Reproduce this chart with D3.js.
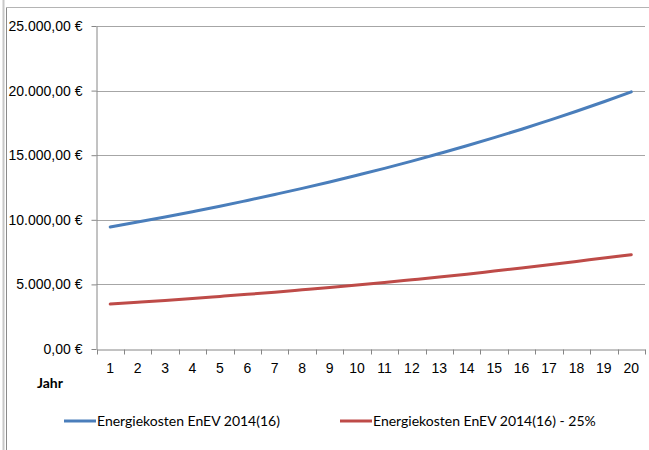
<!DOCTYPE html>
<html>
<head>
<meta charset="utf-8">
<script src="https://cdn.jsdelivr.net/npm/d3@7"></script>
<style>
  body { margin: 0; background: #fff; }
  svg { display: block; font-family: Lato, "Open Sans", sans-serif; }
</style>
</head>
<body>
<div id="chart"></div>
<script>
'use strict';

// Jahr 1..20
const years = ['1', '2', '3', '4', '5', '6', '7', '8', '9', '10',
    '11', '12', '13', '14', '15', '16', '17', '18', '19', '20'];

// Energiekosten EnEV 2014(16)
const kostenEnev = [9450, 9830, 10220, 10630, 11050, 11500, 11960, 12430, 12930, 13450,
    13980, 14540, 15130, 15730, 16360, 17010, 17700, 18400, 19140, 19900];

// Energiekosten EnEV 2014(16) - 25%
const kostenReduziert = [3480, 3620, 3760, 3910, 4070, 4230, 4400, 4580, 4760, 4950,
    5150, 5360, 5570, 5790, 6030, 6270, 6520, 6780, 7050, 7300];

const yTicks = [0, 5000, 10000, 15000, 20000, 25000];

const seriesNames = ['Energiekosten EnEV 2014(16)', 'Energiekosten EnEV 2014(16) - 25%'];
const seriesColors = ['#4a7ebb', '#be4b48'];

const width = 649, height = 450;
const margin = { top: 26, right: 4, bottom: 101, left: 96.5 };

const svg = d3.select('#chart').append('svg')
    .attr('width', width).attr('height', height);

// outer frame like the spreadsheet chart border
svg.append('line').attr('x1', 3.5).attr('x2', 3.5).attr('y1', 0).attr('y2', height)
    .attr('stroke', '#c8c8c8').attr('stroke-width', 2);
svg.append('line').attr('x1', 6.5).attr('x2', 6.5).attr('y1', 7).attr('y2', height)
    .attr('stroke', '#8a8a8a');
svg.append('line').attr('x1', 6).attr('x2', width).attr('y1', 7.5).attr('y2', 7.5)
    .attr('stroke', '#b4b4b4');

const plotW = width - margin.left - margin.right;
const plotH = height - margin.top - margin.bottom;

const x = d3.scaleBand().domain(years).range([margin.left, margin.left + plotW]);
const y = d3.scaleLinear().domain([0, 25000]).range([margin.top + plotH, margin.top]);

const fmt = v => d3.format(',.2f')(v).replace(/,/g, '#').replace('.', ',').replace(/#/g, '.') + ' €';

// gridlines
svg.append('g').selectAll('line')
    .data(yTicks.filter(d => d > 0))
    .enter().append('line')
    .attr('x1', margin.left).attr('x2', margin.left + plotW)
    .attr('y1', d => Math.round(y(d)) + 0.5).attr('y2', d => Math.round(y(d)) + 0.5)
    .attr('stroke', '#a6a6a6');

// y axis
const yAxis = svg.append('g')
    .attr('transform', `translate(${margin.left},0)`)
    .call(d3.axisLeft(y).tickValues(yTicks).tickFormat(fmt).tickSize(5).tickSizeOuter(0));
yAxis.select('.domain').attr('stroke', '#868686');
yAxis.selectAll('.tick line').attr('stroke', '#868686');
yAxis.selectAll('.tick text').attr('x', -14).style('font-size', '14px').attr('fill', '#000');

// x axis
const xAxis = svg.append('g')
    .attr('transform', `translate(0,${Math.round(y(0)) + 0.5})`)
    .call(d3.axisBottom(x).tickSize(0));
xAxis.select('.domain').attr('stroke', '#868686');
xAxis.selectAll('.tick text').attr('y', 14).style('font-size', '14px').attr('fill', '#000');

// tick marks at category boundaries
const bounds = years.map(d => x(d)).concat([margin.left + plotW]);
xAxis.append('g').selectAll('line')
    .data(bounds)
    .enter().append('line')
    .attr('x1', d => Math.round(d) + 0.5).attr('x2', d => Math.round(d) + 0.5)
    .attr('y1', 0).attr('y2', 5)
    .attr('stroke', '#868686');

svg.append('text')
    .attr('x', 37).attr('y', 388)
    .style('font-size', '14px').style('font-weight', 'bold')
    .text('Jahr');

// lines
const line = d3.line()
    .x((d, i) => x(years[i]) + x.bandwidth() / 2)
    .y(d => y(d))
    .curve(d3.curveMonotoneX);

[kostenEnev, kostenReduziert].forEach((s, k) => {
    svg.append('path')
        .datum(s)
        .attr('fill', 'none')
        .attr('stroke', seriesColors[k])
        .attr('stroke-width', 3)
        .attr('stroke-linecap', 'round')
        .attr('d', line);
});

// legend
const legendX = [64, 340];
const legend = svg.append('g').attr('class', 'legend');
seriesNames.forEach((name, k) => {
    legend.append('line')
        .attr('x1', legendX[k]).attr('x2', legendX[k] + 32)
        .attr('y1', 421).attr('y2', 421)
        .attr('stroke', seriesColors[k]).attr('stroke-width', 3);
    legend.append('text')
        .attr('x', legendX[k] + 33).attr('y', 421).attr('dy', '0.35em')
        .style('font-size', '14px')
        .text(name);
});
</script>
</body>
</html>
